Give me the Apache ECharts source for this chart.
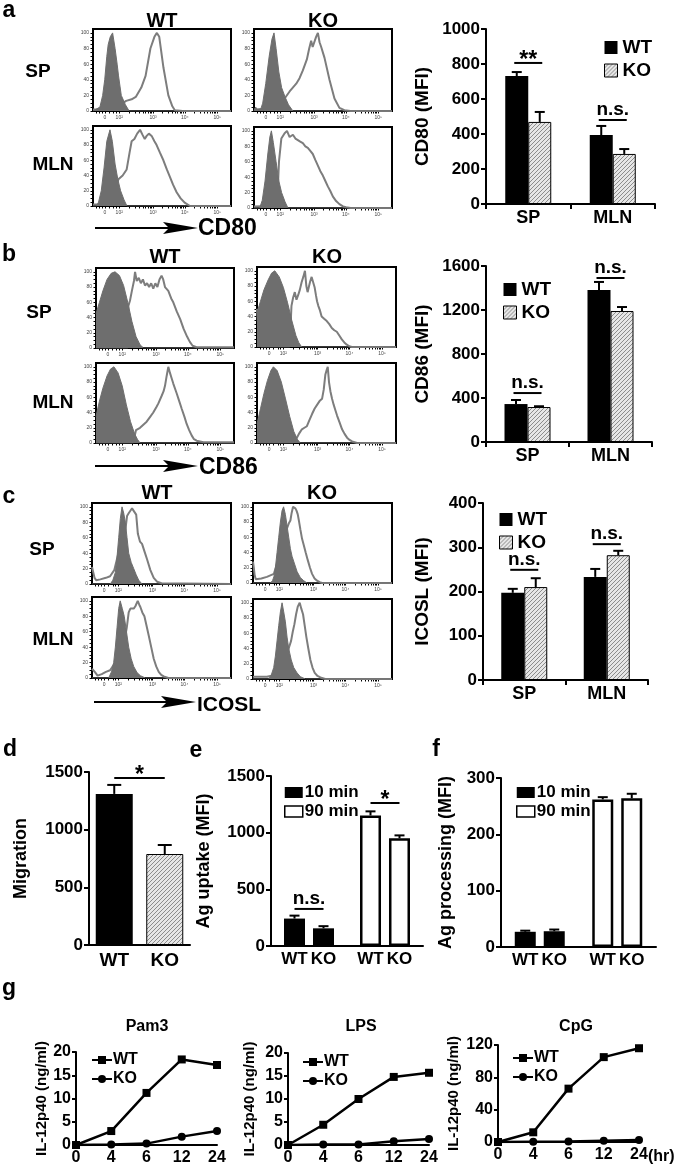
<!DOCTYPE html>
<html><head><meta charset="utf-8">
<script src="https://cdn.jsdelivr.net/npm/echarts@6/dist/echarts.min.js"></script>
<style>html,body{margin:0;padding:0;background:#fff}#c{width:675px;height:1166px}</style>
</head><body><div id="c"></div>
<script>
// ---------------- DATA ----------------
const tissues = ['SP', 'MLN'];
const genotypes = ['WT', 'KO'];
const timeGroups = ['10 min', '90 min'];
const hours = ['0', '4', '6', '12', '24'];

// flow histogram axis ticks (channel units 0..1000, logicle display)
const histTickPos = [87, 190, 436, 665, 900];
const histTickLabels = ['0', '10²', '10³', '10⁴', '10⁵'];
const histMinorTicks = [20, 45, 65, 87, 120, 150, 170, 190, 264, 307, 338, 362, 381, 398, 412, 425, 436, 505, 545, 574, 596, 614, 629, 643, 654, 665, 736, 777, 806, 829, 848, 864, 877, 889, 900];
const histYLabels = [0, 20, 40, 60, 80, 100];
const histYTicks = [0, 5, 10, 15, 20, 25, 30, 35, 40, 45, 50, 55, 60, 65, 70, 75, 80, 85, 90, 95, 100];

// panel a (CD80) histograms: [channel, % of max]
const aWtSpIso = [[0,0],[14,0],[50,5],[70,20],[85,40],[100,70],[110,85],[125,95],[142,100],[160,80],[175,60],[185,45],[205,20],[235,8],[262,0],[1000,0]];
const aWtSpCd = [[0,2],[150,2],[200,8],[240,13],[280,15],[310,18],[350,30],[381,45],[416,80],[445,95],[463,100],[480,95],[511,55],[546,20],[575,6],[593,1],[650,0],[1000,0]];
const aWtMlnIso = [[0,0],[25,0],[40,5],[60,20],[80,50],[100,85],[123,100],[140,85],[160,55],[180,35],[200,20],[225,8],[246,0],[1000,0]];
const aWtMlnCd = [[0,2],[120,2],[150,15],[184,35],[215,40],[244,48],[265,70],[280,85],[300,88],[320,95],[341,100],[360,93],[375,88],[389,92],[405,95],[425,92],[445,85],[461,80],[485,70],[510,60],[535,48],[558,38],[580,28],[606,18],[635,10],[667,4],[703,0],[1000,0]];
const aKoSpIso = [[0,0],[5,0],[12,5],[25,2],[50,3],[63,10],[85,35],[110,70],[130,92],[145,100],[160,80],[180,50],[200,30],[225,18],[250,8],[282,0],[1000,0]];
const aKoSpCd = [[0,2],[180,3],[222,16],[258,25],[306,35],[330,42],[354,52],[383,66],[400,80],[414,90],[425,82],[434,80],[450,95],[463,100],[475,88],[487,82],[511,68],[547,40],[583,16],[619,4],[655,1],[700,0],[1000,0]];
const aKoMlnIso = [[0,0],[41,0],[60,10],[80,35],[100,70],[115,92],[126,100],[140,85],[160,60],[180,35],[200,20],[225,8],[246,0],[1000,0]];
const aKoMlnCd = [[0,2],[150,3],[174,30],[181,60],[198,90],[222,97],[239,100],[258,92],[282,95],[300,90],[318,88],[335,86],[354,84],[372,80],[390,78],[408,74],[426,70],[445,62],[463,55],[480,48],[499,42],[517,35],[535,28],[553,22],[571,15],[595,9],[619,5],[645,2],[667,1],[700,0],[1000,0]];

// panel b (CD86) histograms
const bWtSpIso = [[0,45],[25,60],[50,75],[80,90],[110,98],[138,100],[170,95],[200,82],[230,60],[260,35],[290,15],[320,4],[345,0],[1000,0]];
const bWtSpCd = [[0,1],[230,1],[234,55],[246,62],[260,75],[275,88],[283,100],[295,88],[310,92],[325,85],[340,90],[355,82],[370,85],[385,80],[400,85],[415,78],[430,85],[445,80],[460,90],[475,95],[487,90],[500,80],[524,75],[545,65],[560,60],[585,48],[610,38],[635,25],[660,15],[680,8],[700,3],[729,1],[1000,1]];
const bWtMlnIso = [[0,35],[25,55],[50,72],[80,88],[105,97],[130,100],[160,92],[190,75],[220,50],[250,28],[280,12],[300,5],[319,0],[1000,0]];
const bWtMlnCd = [[0,1],[270,1],[290,17],[319,20],[343,24],[367,28],[391,34],[415,40],[440,48],[452,52],[476,62],[490,68],[500,75],[512,88],[524,100],[536,92],[548,85],[560,78],[585,65],[603,55],[621,45],[640,35],[657,25],[675,17],[693,10],[710,5],[729,3],[778,1],[1000,1]];
const bKoSpIso = [[0,45],[25,60],[50,75],[80,88],[105,97],[128,100],[160,92],[190,78],[220,58],[250,35],[280,15],[300,6],[321,0],[1000,0]];
const bKoSpCd = [[0,50],[8,30],[15,5],[30,1],[235,1],[248,54],[260,65],[272,72],[284,62],[296,68],[308,75],[321,85],[333,92],[345,100],[355,80],[364,72],[372,78],[381,85],[393,92],[405,90],[415,78],[424,68],[432,60],[441,54],[453,48],[465,40],[483,37],[502,34],[520,30],[538,25],[556,22],[574,20],[592,15],[610,10],[628,6],[646,3],[664,1],[682,0],[1000,0]];
const bKoMlnIso = [[0,25],[25,45],[50,65],[75,82],[100,95],[118,100],[145,95],[175,80],[205,58],[235,35],[265,15],[290,5],[311,0],[1000,0]];
const bKoMlnCd = [[0,1],[260,1],[287,7],[305,13],[323,18],[341,20],[359,22],[377,30],[396,38],[414,45],[432,50],[450,55],[468,58],[480,70],[492,90],[500,95],[509,100],[518,80],[528,68],[540,58],[552,50],[564,43],[576,36],[594,27],[612,18],[630,12],[648,7],[666,4],[684,2],[720,0],[1000,0]];

// panel c (ICOSL) histograms
const cWtSpIso = [[0,0],[132,0],[150,5],[168,15],[180,35],[192,60],[204,85],[216,100],[228,92],[240,80],[252,60],[264,40],[282,28],[300,20],[318,12],[336,5],[360,0],[1000,0]];
const cWtSpCd = [[0,22],[8,20],[18,8],[30,5],[60,6],[100,8],[130,10],[160,18],[190,40],[220,60],[240,70],[252,88],[265,92],[276,95],[288,98],[300,100],[318,90],[330,65],[345,55],[360,52],[378,42],[396,32],[420,18],[444,8],[468,3],[500,1],[1000,0]];
const cWtMlnIso = [[0,0],[120,0],[140,8],[156,20],[168,40],[180,65],[192,90],[203,100],[218,90],[232,80],[248,60],[264,40],[282,25],[300,15],[324,7],[348,3],[384,0],[1000,0]];
const cWtMlnCd = [[0,12],[10,10],[20,8],[40,3],[70,5],[100,8],[130,10],[160,18],[200,35],[230,45],[250,65],[264,85],[276,90],[288,92],[300,90],[312,93],[329,100],[340,95],[348,92],[362,85],[377,80],[392,68],[408,55],[426,40],[444,25],[462,15],[480,8],[498,4],[516,2],[550,0],[1000,0]];
const cKoSpIso = [[0,0],[125,0],[140,3],[150,8],[161,20],[173,40],[185,60],[197,80],[209,95],[220,100],[233,90],[245,75],[257,60],[269,45],[281,35],[299,25],[317,15],[341,7],[365,3],[389,0],[1000,0]];
const cKoSpCd = [[0,28],[6,20],[12,10],[20,5],[60,6],[100,8],[150,12],[190,35],[225,60],[245,72],[257,78],[269,82],[278,92],[288,100],[296,98],[305,98],[313,95],[322,90],[332,80],[341,70],[353,58],[365,50],[379,40],[394,30],[410,20],[425,12],[443,6],[461,3],[480,1],[497,0],[1000,0]];
const cKoMlnIso = [[0,0],[113,0],[131,5],[149,15],[161,30],[173,50],[185,70],[197,88],[209,100],[221,88],[233,75],[245,55],[257,40],[275,25],[293,15],[317,8],[341,3],[377,0],[1000,0]];
const cKoMlnCd = [[0,3],[60,3],[100,3],[150,5],[200,15],[240,30],[260,42],[274,50],[286,62],[298,72],[310,85],[322,95],[336,100],[348,92],[360,85],[372,70],[384,55],[398,40],[413,25],[428,15],[444,8],[464,4],[485,2],[520,0],[1000,0]];

// MFI bar charts (per tissue: SP, MLN)
const cd80Wt = [731, 394], cd80WtErr = [754, 446], cd80Ko = [469, 286], cd80KoErr = [526, 314];
const cd86Wt = [345, 1382], cd86WtErr = [382, 1455], cd86Ko = [318, 1191], cd86KoErr = [325, 1227];
const icoslWt = [197, 233], icoslWtErr = [206, 251], icoslKo = [210, 282], icoslKoErr = [230, 292];

// d: migration (WT, KO)
const migration = [1310, 789], migrationErr = [1388, 867];
// e: Ag uptake (per time group: 10 min, 90 min)
const uptakeWt = [242, 1152], uptakeWtErr = [268, 1188];
const uptakeKo = [156, 950], uptakeKoErr = [175, 976];
// f: Ag processing
const procWt = [27, 262], procWtErr = [29, 266];
const procKo = [28, 264], procKoErr = [31, 272];

// g: IL-12p40 (ng/ml) time courses
const pam3Wt = [0, 3.0, 11.2, 18.4, 17.2], pam3Ko = [0, 0.1, 0.3, 1.8, 3.0];
const lpsWt = [0, 4.4, 10.0, 14.8, 15.7], lpsKo = [0, 0.1, 0.1, 0.8, 1.3];
const cpgWt = [0, 12, 66, 105, 116], cpgKo = [0, 0.3, 0.5, 1.5, 2.5];

// significance annotations: [category, height, text]
const sigA = [[0, 806, '**'], [1, 480, 'n.s.']];
const sigB = [[0, 445, 'n.s.'], [1, 1491, 'n.s.']];
const sigC = [[0, 249, 'n.s.'], [1, 307, 'n.s.']];
const sigD = [[0, 1448, '*']];
const sigE = [[0, 327, 'n.s.'], [1, 1262, '*']];

// ---------------- BUILD ----------------
const FF = '"Liberation Sans", Arial, Helvetica, sans-serif';
function makeHatch() {
  const c = document.createElement('canvas'); c.width = 4; c.height = 4;
  const g = c.getContext('2d');
  g.fillStyle = '#e6e6e6'; g.fillRect(0, 0, 4, 4);
  g.strokeStyle = '#8c8c8c'; g.lineWidth = 1;
  g.beginPath();
  g.moveTo(-1, 5); g.lineTo(5, -1);
  g.moveTo(-1, 1); g.lineTo(1, -1);
  g.moveTo(3, 5); g.lineTo(5, 3);
  g.stroke();
  return c;
}
const HATCH = { image: makeHatch(), repeat: 'repeat' };
const bold = (s) => ({ fontFamily: FF, fontWeight: 'bold', fontSize: s, color: '#000' });
const plain = (v) => String(v);

const grid = [], xAxis = [], yAxis = [], series = [], legend = [];

function addHist(r, iso, sample) {
  const i = grid.length;
  grid.push({ left: r[0], top: r[1], width: r[2], height: r[3], show: true, borderColor: '#000', borderWidth: 2, backgroundColor: '#fff', outerBoundsMode: 'none' });
  xAxis.push({ gridIndex: i, type: 'value', min: 0, max: 1000, axisLine: { show: false }, splitLine: { show: false },
    axisTick: { show: true, inside: false, length: 2.5, customValues: histMinorTicks, lineStyle: { color: '#000', width: 1 } },
    axisLabel: { show: true, customValues: histTickPos, formatter: (v) => histTickLabels[histTickPos.indexOf(v)], fontSize: 5, color: '#444', margin: 4, fontFamily: FF } });
  yAxis.push({ gridIndex: i, type: 'value', min: 0, max: 105, axisLine: { show: false }, splitLine: { show: false },
    axisTick: { show: true, length: 2.5, customValues: histYTicks, lineStyle: { color: '#000', width: 1 } },
    axisLabel: { show: true, customValues: histYLabels, fontSize: 5, color: '#444', margin: 4, fontFamily: FF } });
  series.push({ type: 'line', xAxisIndex: i, yAxisIndex: i, data: sample, symbol: 'none', silent: true, z: 2,
    lineStyle: { color: '#7d7d7d', width: 2 } });
  series.push({ type: 'line', xAxisIndex: i, yAxisIndex: i, data: iso, symbol: 'none', silent: true, z: 3,
    lineStyle: { color: '#6e6e6e', width: 1 }, areaStyle: { color: '#6e6e6e', opacity: 1 } });
  return i;
}

function errSeries(i, means, errs, offset, cap) {
  return { type: 'custom', xAxisIndex: i, yAxisIndex: i, z: 5, silent: true,
    data: means.map((m, k) => [k, m, errs[k]]), encode: { x: 0, y: [1, 2] },
    renderItem: (params, api) => {
      const p1 = api.coord([api.value(0), api.value(1)]);
      const p2 = api.coord([api.value(0), api.value(2)]);
      const x = p1[0] + offset;
      return { type: 'group', children: [
        { type: 'line', shape: { x1: x, y1: p1[1], x2: x, y2: p2[1] }, style: { stroke: '#000', lineWidth: 2 } },
        { type: 'line', shape: { x1: x - cap, y1: p2[1], x2: x + cap, y2: p2[1] }, style: { stroke: '#000', lineWidth: 2 } }
      ] };
    } };
}

function valueAxis(i, max, interval, name, gap, nameSize, labelSize) {
  return { gridIndex: i, type: 'value', min: 0, max: max, interval: interval, name: name, nameLocation: 'middle', nameGap: gap,
    nameTextStyle: bold(nameSize), splitLine: { show: false },
    axisLine: { show: true, lineStyle: { color: '#000', width: 2 } },
    axisTick: { show: true, length: 5, lineStyle: { color: '#000', width: 2 } },
    axisLabel: Object.assign(bold(labelSize), { margin: 6, formatter: plain }) };
}

const wtKoLegendData = [
  { name: 'WT', itemStyle: { color: '#000', borderWidth: 0 } },
  { name: 'KO', itemStyle: { color: HATCH, borderColor: '#000', borderWidth: 1 } }
];

function addMfi(r, wt, wtErr, ko, koErr, max, interval, name, gap, lg) {
  const i = grid.length;
  grid.push({ left: r[0], top: r[1], width: r[2], height: r[3], outerBoundsMode: 'none' });
  xAxis.push({ gridIndex: i, type: 'category', data: tissues,
    axisLine: { lineStyle: { color: '#000', width: 2 } },
    axisTick: { show: true, length: 5, lineStyle: { color: '#000', width: 2 } },
    axisLabel: Object.assign(bold(18), { margin: 5, interval: 0 }) });
  yAxis.push(valueAxis(i, max, interval, name, gap, 19, 17));
  series.push({ type: 'bar', name: 'WT', xAxisIndex: i, yAxisIndex: i, data: wt, barWidth: 23, barGap: '0%', itemStyle: { color: '#000' } });
  series.push({ type: 'bar', name: 'KO', xAxisIndex: i, yAxisIndex: i, data: ko, barWidth: 23, barGap: '0%', itemStyle: { color: HATCH, borderColor: '#000', borderWidth: 1 } });
  series.push(errSeries(i, wt, wtErr, -11.5, 5));
  series.push(errSeries(i, ko, koErr, 11.5, 5));
  legend.push({ data: wtKoLegendData, left: lg[0], top: lg[1], orient: 'vertical', icon: 'rect', itemWidth: 13, itemHeight: 13, itemGap: 4,
    itemStyle: { borderColor: '#000' }, textStyle: bold(19), selectedMode: false });
  return i;
}

function addMigration(r) {
  const i = grid.length;
  grid.push({ left: r[0], top: r[1], width: r[2], height: r[3], outerBoundsMode: 'none' });
  xAxis.push({ gridIndex: i, type: 'category', data: genotypes,
    axisLine: { lineStyle: { color: '#000', width: 2 } }, axisTick: { show: false },
    axisLabel: Object.assign(bold(19), { margin: 6, interval: 0 }) });
  yAxis.push(valueAxis(i, 1500, 500, 'Migration', 59, 18, 17));
  const styles = [{ color: '#000' }, { color: HATCH, borderColor: '#000', borderWidth: 1 }];
  series.push({ type: 'bar', name: 'Migration', xAxisIndex: i, yAxisIndex: i, barWidth: 37,
    data: migration.map((v, k) => ({ value: v, itemStyle: styles[k] })) });
  series.push(errSeries(i, migration, migrationErr, 0, 7));
  return i;
}

function addTime(r, prefix, wt, wtErr, ko, koErr, max, interval, name, gap, lg) {
  const i = grid.length;
  grid.push({ left: r[0], top: r[1], width: r[2], height: r[3], outerBoundsMode: 'none' });
  xAxis.push({ gridIndex: i, type: 'category', data: timeGroups,
    axisLine: { lineStyle: { color: '#000', width: 2 } }, axisTick: { show: false }, axisLabel: { show: false } });
  yAxis.push(valueAxis(i, max, interval, name, gap, 18, 17));
  const styles = [{ color: '#000', borderWidth: 0 }, { color: '#fff', borderColor: '#000', borderWidth: 2.5 }];
  [[genotypes[0], wt, wtErr, -14.5], [genotypes[1], ko, koErr, 14.5]].forEach(([g, vals, errs, off]) => {
    series.push({ type: 'bar', name: prefix + '|' + g, xAxisIndex: i, yAxisIndex: i, barWidth: 21, barGap: '38%',
      data: vals.map((v, k) => ({ value: v, itemStyle: styles[k] })),
      label: Object.assign({ show: true, position: 'bottom', distance: 5, formatter: (p) => p.seriesName.split('|')[1] }, bold(17)) });
    series.push(errSeries(i, vals, errs, off, 5));
  });
  timeGroups.forEach((t) => series.push({ type: 'line', name: t, xAxisIndex: i, yAxisIndex: i, data: [] }));
  legend.push({ data: [{ name: timeGroups[0], itemStyle: styles[0] }, { name: timeGroups[1], itemStyle: { color: '#fff', borderColor: '#000', borderWidth: 1.5 } }],
    left: lg[0], top: lg[1], orient: 'vertical', icon: 'rect', itemWidth: 18, itemHeight: 11, itemGap: 2,
    textStyle: Object.assign(bold(17), { padding: [0, 0, 0, -3] }), selectedMode: false });
  return i;
}

function addLine(r, prefix, wt, ko, max, interval, gap, lg) {
  const i = grid.length;
  grid.push({ left: r[0], top: r[1], width: r[2], height: r[3], outerBoundsMode: 'none' });
  xAxis.push({ gridIndex: i, type: 'category', data: hours, boundaryGap: false,
    axisLine: { lineStyle: { color: '#000', width: 2 } }, axisTick: { show: false },
    axisLabel: Object.assign(bold(16), { margin: 5, interval: 0 }) });
  const ya = valueAxis(i, max, interval, 'IL-12p40 (ng/ml)', gap, 15, 16);
  ya.axisTick.length = 4; ya.axisLabel.margin = 5;
  yAxis.push(ya);
  series.push({ type: 'line', name: prefix + '|WT', xAxisIndex: i, yAxisIndex: i, data: wt, symbol: 'rect', symbolSize: 8,
    itemStyle: { color: '#000' }, lineStyle: { color: '#000', width: 2.5 }, z: 4 });
  series.push({ type: 'line', name: prefix + '|KO', xAxisIndex: i, yAxisIndex: i, data: ko, symbol: 'circle', symbolSize: 8,
    itemStyle: { color: '#000' }, lineStyle: { color: '#000', width: 2.5 }, z: 3 });
  legend.push({ data: [prefix + '|WT', prefix + '|KO'], formatter: (n) => n.split('|')[1], left: lg[0], top: lg[1], orient: 'vertical',
    itemWidth: 20, itemHeight: 10, itemGap: 3, textStyle: Object.assign(bold(16), { padding: [0, 0, 0, -4] }), selectedMode: false });
  return i;
}

// histograms
addHist([93, 29, 138, 82], aWtSpIso, aWtSpCd);
addHist([93, 126, 138, 80], aWtMlnIso, aWtMlnCd);
addHist([254, 29, 138, 82], aKoSpIso, aKoSpCd);
addHist([254, 127, 138, 81], aKoMlnIso, aKoMlnCd);
addHist([96, 268, 138, 80], bWtSpIso, bWtSpCd);
addHist([96, 363, 138, 80], bWtMlnIso, bWtMlnCd);
addHist([257, 267, 139, 80], bKoSpIso, bKoSpCd);
addHist([257, 363, 139, 80], bKoMlnIso, bKoMlnCd);
addHist([92, 503, 139, 81], cWtSpIso, cWtSpCd);
addHist([92, 597, 139, 81], cWtMlnIso, cWtMlnCd);
addHist([253, 503, 139, 80], cKoSpIso, cKoSpCd);
addHist([253, 599, 139, 80], cKoMlnIso, cKoMlnCd);

const gA = addMfi([486, 29, 169, 175], cd80Wt, cd80WtErr, cd80Ko, cd80KoErr, 1000, 200, 'CD80 (MFI)', 54, [599, 33]);
const gB = addMfi([486, 266, 166, 176], cd86Wt, cd86WtErr, cd86Ko, cd86KoErr, 1600, 400, 'CD86 (MFI)', 54, [498, 275]);
const gC = addMfi([483, 503, 165, 177], icoslWt, icoslWtErr, icoslKo, icoslKoErr, 400, 100, 'ICOSL (MFI)', 51, [494, 505]);
const gD = addMigration([89, 772, 101, 173]);
const gE = addTime([271, 776, 152, 170], 'uptake', uptakeWt, uptakeWtErr, uptakeKo, uptakeKoErr, 1500, 500, 'Ag uptake (MFI)', 58, [279, 779]);
const gF = addTime([501, 778, 155, 169], 'proc', procWt, procWtErr, procKo, procKoErr, 300, 100, 'Ag processing (MFI)', 46, [511, 779]);
const gP = addLine([76, 1052, 141, 93], 'Pam3', pam3Wt, pam3Ko, 20, 5, 22, [86, 1047]);
const gL = addLine([288, 1053, 141, 92], 'LPS', lpsWt, lpsKo, 20, 5, 31, [297, 1049]);
const gG = addLine([498, 1045, 141, 97], 'CpG', cpgWt, cpgKo, 120, 40, 37, [507, 1045]);

// ---------------- TEXT / DECORATION ----------------
function T(x, y, text, size, align, valign) {
  return { type: 'text', x: x, y: y, silent: true, z: 20,
    style: { text: text, font: 'bold ' + size + 'px ' + FF, fill: '#000', align: align || 'center', verticalAlign: valign || 'middle' } };
}
function arrow(x1, x2, y) {
  return [
    { type: 'line', silent: true, shape: { x1: x1, y1: y, x2: x2 - 28, y2: y }, style: { stroke: '#000', lineWidth: 2 } },
    { type: 'polygon', silent: true, shape: { points: [[x2 - 35, y - 6], [x2, y], [x2 - 35, y + 6], [x2 - 29, y]] }, style: { fill: '#000' } }
  ];
}
const graphics = [
  T(9, 11, 'a', 23), T(9, 255, 'b', 23), T(9, 497, 'c', 23),
  T(10, 750, 'd', 23), T(196, 751, 'e', 23), T(436, 750, 'f', 23), T(9, 989, 'g', 23),
  T(162, 21, 'WT', 20), T(323, 21, 'KO', 20),
  T(165, 257, 'WT', 20), T(327, 257, 'KO', 20),
  T(157, 493, 'WT', 20), T(322, 493, 'KO', 20),
  T(38, 72, 'SP', 19), T(53, 165, 'MLN', 19),
  T(39, 313, 'SP', 19), T(53, 403, 'MLN', 19),
  T(42, 550, 'SP', 19), T(53, 640, 'MLN', 19),
  ...arrow(95, 198, 228), T(198, 229, 'CD80', 23, 'left'),
  ...arrow(95, 198, 466), T(199, 468, 'CD86', 23, 'left'),
  ...arrow(94, 196, 702), T(197, 705, 'ICOSL', 21, 'left'),
  T(147, 1027, 'Pam3', 16), T(361, 1027, 'LPS', 16), T(576, 1027, 'CpG', 16),
  T(648, 1157, '(hr)', 16, 'left')
];

const chart = echarts.init(document.getElementById('c'), null, { renderer: 'canvas' });
chart.setOption({
  animation: false,
  backgroundColor: '#fff',
  textStyle: { fontFamily: FF },
  grid: grid, xAxis: xAxis, yAxis: yAxis, series: series, legend: legend,
  graphic: graphics
});

// significance bars placed through the chart's own coordinate system
function sigGraphics(gi, list, half, spanCats) {
  const out = [];
  list.forEach(([cat, v, text]) => {
    let x1, x2;
    if (spanCats) {
      x1 = chart.convertToPixel({ gridIndex: gi }, [0, v])[0];
      x2 = chart.convertToPixel({ gridIndex: gi }, [1, v])[0];
    } else {
      const cx = chart.convertToPixel({ gridIndex: gi }, [cat, v])[0];
      x1 = cx - half; x2 = cx + half;
    }
    const y = chart.convertToPixel({ gridIndex: gi }, [cat, v])[1];
    out.push({ type: 'line', silent: true, z: 20, shape: { x1: x1, y1: y, x2: x2, y2: y }, style: { stroke: '#000', lineWidth: 2 } });
    const star = text.indexOf('*') >= 0;
    out.push(T((x1 + x2) / 2, star ? y + 9 : y - 1, text, star ? 23 : 19, 'center', 'bottom'));
  });
  return out;
}
const sigs = [].concat(
  sigGraphics(gA, sigA, 14), sigGraphics(gB, sigB, 14), sigGraphics(gC, sigC, 14),
  sigGraphics(gD, sigD, 0, true), sigGraphics(gE, sigE, 14.5)
);
chart.setOption({ graphic: graphics.concat(sigs) }, { replaceMerge: ['graphic'] });
</script></body></html>
